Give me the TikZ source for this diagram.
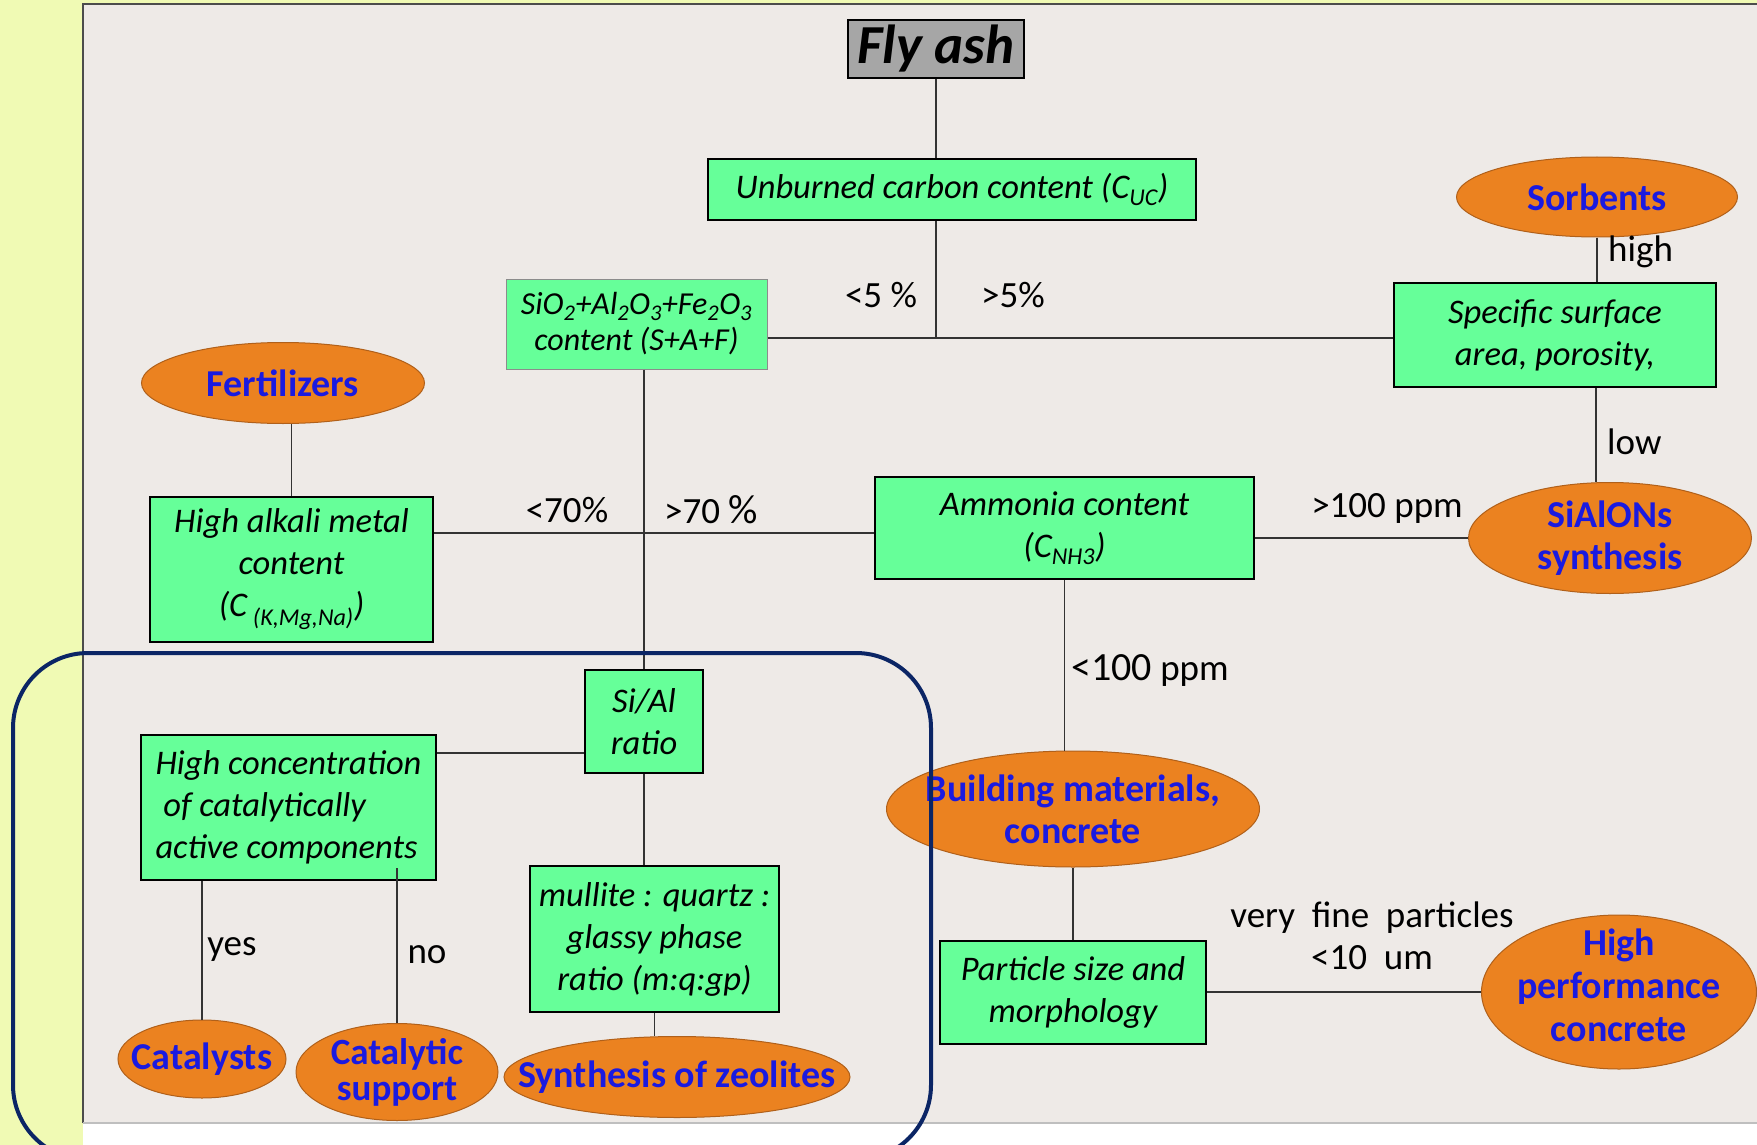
\documentclass[tikz,border=0pt]{standalone}
\usepackage{fontspec}
\setmainfont{Carlito}
\usetikzlibrary{shapes.geometric,calc}
\definecolor{bgyellow}{HTML}{F0FAB4}
\definecolor{panelgrey}{HTML}{EEEAE7}
\definecolor{boxgreen}{HTML}{66FF99}
\definecolor{ellorange}{HTML}{EB8220}
\definecolor{ellborder}{HTML}{B0601A}
\definecolor{elltext}{HTML}{1A1AE0}
\definecolor{navyframe}{HTML}{0B2565}
\definecolor{flygrey}{HTML}{A6A6A6}
\tikzset{
  box/.style={rectangle, draw=black, line width=2pt, fill=boxgreen, inner sep=2pt,
    align=center, font={\fontsize{34.5}{42}\selectfont\itshape}},
  ell/.style={ellipse, draw=ellborder, line width=1pt, fill=ellorange, inner sep=0pt},
  etext/.style={align=center, text=elltext, inner sep=0pt,
    font={\fontsize{38}{42}\selectfont\bfseries}},
  lab/.style={inner sep=0pt, align=center, font={\fontsize{37}{42}\selectfont}},
  conn/.style={draw=black!80, line width=1.6pt},
}
\begin{document}
\begin{tikzpicture}[x=1pt,y=-1pt]
\useasboundingbox (0,0) rectangle (1757,1145);
\clip (0,0) rectangle (1757,1145);
% background
\fill[bgyellow] (0,0) rectangle (1757,1145);
\fill[white] (83,1123) rectangle (1757,1145);
\fill[panelgrey] (83,4) rectangle (1757,1123);
\draw[black!70, line width=1.5pt] (83,1123) -- (83,4) -- (1757,4);
\draw[black!25, line width=2.5pt] (83,1123) -- (1757,1123);

% boxes
\node[box, fill=flygrey, minimum width=176, minimum height=58,
  font={\fontsize{55}{60}\selectfont\bfseries\itshape}] (fly) at (936,49) {Fly ash};
\node[box, minimum width=488, minimum height=61] (unb) at (952,189.5)
  {Unburned carbon content (C\textsubscript{UC})};
\node[box, draw=black!45, line width=1pt, minimum width=261, minimum height=90,
  font={\fontsize{32}{36}\selectfont\itshape}] (sio) at (636.5,324)
  {SiO\textsubscript{2}+Al\textsubscript{2}O\textsubscript{3}+Fe\textsubscript{2}O\textsubscript{3}\\content (S+A+F)};
\node[box, minimum width=322, minimum height=104] (spec) at (1555,335)
  {Specific surface\\area, porosity,};
\node[box, minimum width=283, minimum height=145] (alk) at (291.5,569.5)
  {High alkali metal\\content\\(C\,\textsubscript{(K,Mg,Na)})};
\node[box, minimum width=379, minimum height=102] (amm) at (1064.5,528)
  {Ammonia content\\(C\textsubscript{NH3})};
\node[box, minimum width=118, minimum height=103] (sial) at (644,721.5)
  {Si/Al\\ratio};
\node[box, minimum width=295, minimum height=145, align=left] (hic) at (288.5,807.5)
  {High concentration\\\ of catalytically\\active components};
\node[box, minimum width=249, minimum height=146] (mul) at (654.5,939)
  {mullite : quartz :\\glassy phase\\ratio (m:q:gp)};
\node[box, minimum width=266, minimum height=103] (part) at (1073,992.5)
  {Particle size and\\morphology};

% ellipses
\node[ell, minimum width=281, minimum height=80] (sorb) at (1597,197) {};
\node[etext] (sorbT) at (sorb) {Sorbents};
\node[ell, minimum width=283, minimum height=111] (sialon) at (1610,538) {};
\node[etext] (sialonT) at (sialon) {SiAlONs\\synthesis};
\node[ell, minimum width=283, minimum height=81] (fert) at (283,383) {};
\node[etext] (fertT) at (fert) {Fertilizers};
\node[ell, minimum width=373, minimum height=116] (build) at (1073,809) {};
\node[etext] (buildT) at (build) {Building materials,\\concrete};
\node[ell, minimum width=275, minimum height=154] (hpc) at (1619,992) {};
\node[etext, font={\fontsize{38}{43}\selectfont\bfseries}] (hpcT) at ([yshift=7pt]hpc) {High\\performance\\concrete};
\node[ell, minimum width=346, minimum height=81] (zeo) at (677,1077) {};
\node[etext] (zeoT) at (zeo) {Synthesis of zeolites};
\node[ell, minimum width=168, minimum height=78] (cat) at (202,1059) {};
\node[etext] (catT) at (cat) {Catalysts};
\node[ell, minimum width=202, minimum height=97] (csup) at (397,1072) {};
\node[etext, font={\fontsize{37}{36}\selectfont\bfseries}] (csupT) at (csup) {Catalytic\\support};

% helper coordinates
\coordinate (j1) at (936,338);
\coordinate (hy) at (0,533);
\coordinate (hy2) at (0,753);
\coordinate (sx) at (1596,0);
\coordinate (nx) at (0,868);

% connectors
\draw[conn] (fly.south) -- (fly.south |- unb.north);
\draw[conn] (unb.south -| j1) -- (j1);
\draw[conn] (sio.east |- j1) -- (spec.west |- j1);
\draw[conn] (sio.south -| sial.north) -- (sial.north);
\draw[conn] (alk.east |- hy) -- (amm.west |- hy);
\draw[conn] (amm.east |- sialon.west) -- (sialon.west);
\draw[conn] (sorb.south) -- (sorb.south |- spec.north);
\draw[conn] (spec.south -| sx) -- (sialon.north -| sx);
\draw[conn] (fert.south -| alk.north) -- (alk.north);
\draw[conn] (amm.south) -- (amm.south |- build.north);
\draw[conn] (build.south) -- (build.south |- part.north);
\draw[conn] (part.east |- hpc.west) -- (hpc.west);
\draw[conn] (sial.west |- hy2) -- (hic.east |- hy2);
\draw[conn] (sial.south) -- (sial.south |- mul.north);
\draw[conn] (mul.south) -- (mul.south |- zeo.north);
\draw[conn] (hic.south -| cat.north) -- (cat.north);
\draw[conn] (csup.north |- nx) -- (csup.north);

% labels
\node[lab] (l5a) at (881,295) {<5 \%};
\node[lab] (l5b) at (1013,295) {>5\%};
\node[lab] (l70a) at (567,510) {<70\%};
\node[lab] (l70b) at (711,510) {>70 {\fontsize{41}{42}\selectfont\%}};
\node[lab] (l100a) at (1387,508) {>100 ppm};
\node[lab, anchor=west] (lhigh) at (1608,252) {high};
\node[lab, anchor=west] (llow) at (1607,442) {low};
\node[lab, anchor=west] (l100b) at (1071,670) {{\fontsize{40}{42}\selectfont<100} ppm};
\node[lab] (lfine) at (1372,936) {very\ \ fine\ \ particles\\<10\ \ um};
\node[lab] (lyes) at (232,950) {yes};
\node[lab] (lno) at (427,955) {no};

% highlight frame
\draw[navyframe, line width=4pt, rounded corners=75] (13,653) rectangle (931,1160);
\end{tikzpicture}
\end{document}
